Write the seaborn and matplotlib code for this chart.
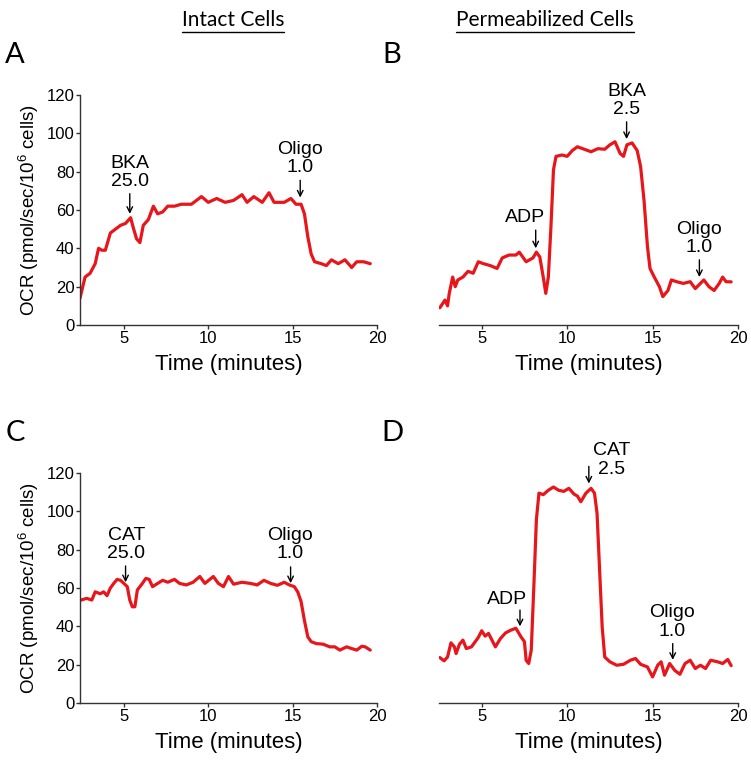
import matplotlib
matplotlib.use("Agg")
import matplotlib.pyplot as plt
import seaborn as sns
import pandas as pd

# --- traces (time in minutes, OCR) ---
time_a = [2.4, 2.7, 3.0, 3.3, 3.5, 3.7, 3.9, 4.2, 4.5, 4.8, 5.1, 5.4, 5.55, 5.75, 5.95,
          6.15, 6.45, 6.75, 7.0, 7.3, 7.6, 8.0, 8.4, 8.7, 9.0, 9.3, 9.6, 10.0, 10.5, 11.0,
          11.5, 12.0, 12.3, 12.7, 13.2, 13.6, 13.9, 14.5, 14.9, 15.2, 15.5, 15.7, 15.9,
          16.1, 16.3, 16.7, 17.0, 17.3, 17.7, 18.1, 18.5, 18.8, 19.2, 19.6]
ocr_a = [14, 25, 27, 32, 40, 39, 39, 48, 50, 52, 53, 56, 51, 45, 43,
         52, 55, 62, 58, 59, 62, 62, 63, 63, 63, 65, 67, 64, 66, 64,
         65, 68, 64, 67, 64, 69, 64, 64, 66, 63, 63, 58, 46,
         37, 33, 32, 31, 34, 32, 34, 30, 33, 33, 32]

time_b = [2.55, 2.7, 2.85, 3.0, 3.1, 3.3, 3.45, 3.6, 3.9, 4.2, 4.5, 4.8, 5.1, 5.5, 5.9,
          6.2, 6.6, 7.0, 7.2, 7.6, 8.0, 8.2, 8.4, 8.6, 8.75, 8.9, 9.05, 9.2, 9.35, 9.7,
          10.0, 10.3, 10.6, 11.0, 11.4, 11.8, 12.2, 12.5, 12.8, 13.1, 13.3, 13.5, 13.8,
          14.1, 14.3, 14.5, 14.7, 14.85, 15.1, 15.4, 15.6, 15.9, 16.1, 16.4, 16.8, 17.2,
          17.5, 17.8, 18.0, 18.3, 18.6, 18.9, 19.1, 19.3, 19.6]
ocr_b = [9, 11, 13, 10, 16.5, 25, 20, 23.5, 25, 28, 27, 33, 32, 31, 29.5,
         35, 36.5, 36.5, 38, 33, 35, 38, 35.5, 25, 16.5, 25, 51, 81, 88, 88.7,
         88, 91, 93, 91.7, 90.4, 92, 91.7, 94, 95.6, 89.5, 88, 94, 95,
         91, 82.6, 65, 41, 29.5, 25, 20, 14.8, 18, 23.5, 22.6, 21.7, 22.6,
         19, 21.7, 23.5, 20, 18, 21.7, 25, 22.6, 22.5]

time_c = [2.45, 2.8, 3.1, 3.3, 3.6, 3.8, 4.0, 4.2, 4.4, 4.6, 4.8, 5.0, 5.2, 5.35, 5.5,
          5.65, 5.8, 6.1, 6.3, 6.5, 6.7, 7.0, 7.3, 7.6, 8.0, 8.3, 8.7, 9.1, 9.5, 9.8,
          10.3, 10.6, 10.9, 11.2, 11.5, 12.0, 12.5, 12.9, 13.3, 13.7, 14.1, 14.5, 14.8,
          15.1, 15.3, 15.5, 15.7, 15.9, 16.1, 16.4, 16.8, 17.2, 17.5, 17.8, 18.2, 18.5,
          18.8, 19.1, 19.3, 19.6]
ocr_c = [53.7, 54.6, 53.7, 58, 57, 58, 56, 60, 62.4, 64.5, 64, 62.4, 60.7, 53.7, 50.2,
         50.2, 59, 62.4, 65, 64.5, 60.7, 62.4, 64, 63, 64.5, 62.4, 61.6, 63, 66, 62.4,
         66, 62.4, 60.7, 66, 62, 63, 62.4, 61.6, 64, 62.4, 61.4, 63, 61.6,
         60.7, 58, 53, 43, 34.5, 32, 31, 30.7, 29.3, 29.3, 27.6, 29.3, 28.4,
         27.6, 29.6, 29.3, 27.6]

time_d = [2.55, 2.8, 3.0, 3.2, 3.4, 3.5, 3.7, 3.9, 4.1, 4.4, 4.8, 5.0, 5.2, 5.4, 5.6,
          5.8, 6.1, 6.4, 6.7, 7.0, 7.3, 7.5, 7.6, 7.75, 7.9, 8.05, 8.2, 8.35, 8.6, 8.9,
          9.2, 9.5, 9.8, 10.1, 10.4, 10.6, 10.8, 11.1, 11.4, 11.6, 11.75, 11.9, 12.05,
          12.2, 12.5, 12.9, 13.3, 13.7, 14.0, 14.3, 14.7, 15.0, 15.3, 15.5, 15.7, 16.0,
          16.3, 16.6, 16.9, 17.2, 17.5, 17.8, 18.1, 18.4, 18.8, 19.1, 19.4, 19.6]
ocr_d = [23.7, 22, 24, 31.4, 29.3, 25.8, 30.7, 32.8, 28.4, 29.3, 34.2, 37.7, 34.9, 36.3, 32.8,
         29.3, 33.7, 36.6, 38, 39, 34.5, 32, 22.3, 20.6, 27.6, 60.7, 95.6, 109.5, 108.7, 111,
         112.7, 111, 110.4, 112, 109, 108, 105, 109.5, 112, 109.5, 99, 69.4, 39.8,
         24, 21.5, 19.7, 20.2, 22.3, 23.2, 20.2, 18.8, 13.6, 19.7, 21.5, 14.5, 20.6,
         17, 15, 20.6, 22.3, 18, 19.7, 18, 22.3, 21.5, 20.6, 22.7, 19.5]

# annotations: label, arrow x, arrow tip, arrow tail, text x, text bottom
notes_a = [("BKA\n25.0", 5.35, 58, 68.5, 5.35, 70.5),
           ("Oligo\n1.0", 15.45, 66.5, 75.5, 15.45, 77.5)]
notes_b = [("ADP", 8.16, 40, 49.5, 7.55, 51.5),
           ("BKA\n2.5", 13.48, 97, 106, 13.5, 108),
           ("Oligo\n1.0", 17.74, 25, 34, 17.74, 36)]
notes_c = [("CAT\n25.0", 5.1, 63, 71.5, 5.15, 73.5),
           ("Oligo\n1.0", 14.88, 62.5, 71, 14.85, 73.5)]
notes_d = [("ADP", 7.24, 40, 48.5, 6.5, 49.5),
           ("CAT\n2.5", 11.27, 114.5, 123.5, 12.6, 117.5),
           ("Oligo\n1.0", 16.18, 22.5, 31, 16.15, 33)]

sns.set_style("ticks")
plt.rcParams["font.family"] = ["Liberation Sans", "DejaVu Sans"]
plt.rcParams["mathtext.fontset"] = "custom"
plt.rcParams["mathtext.rm"] = "Liberation Sans"
plt.rcParams["mathtext.it"] = "Liberation Sans:italic"
for key in ("text.color", "axes.labelcolor", "xtick.labelcolor", "ytick.labelcolor"):
    plt.rcParams[key] = "black"

RED = "#e8161b"
AXC = "#333333"
W, H = 751, 763

fig = plt.figure(figsize=(W / 100, H / 100), dpi=100)


def make_axes(left, top_px, right):
    # 0 at top_px + 230, 120 at top_px
    return fig.add_axes([left / W, (H - top_px - 230) / H, (right - left) / W, 230 / H])


panels = [
    (make_axes(80, 95, 377), time_a, ocr_a, notes_a, True),
    (make_axes(439, 95, 738), time_b, ocr_b, notes_b, False),
    (make_axes(80, 473, 377), time_c, ocr_c, notes_c, True),
    (make_axes(439, 473, 738), time_d, ocr_d, notes_d, False),
]

for ax, t, v, notes, has_y in panels:
    df = pd.DataFrame({"time": t, "ocr": v})
    sns.lineplot(data=df, x="time", y="ocr", ax=ax, color=RED, linewidth=2.3)
    ax.set_xlim(2.5 if not has_y else 2.4, 20)
    ax.set_ylim(0, 120)
    ax.set_xticks([5, 10, 15, 20])
    ax.spines["top"].set_visible(False)
    ax.spines["right"].set_visible(False)
    for s in ("left", "bottom"):
        ax.spines[s].set_color(AXC)
        ax.spines[s].set_linewidth(1.0)
    ax.tick_params(axis="both", labelsize=12, length=3, width=1.0, color=AXC,
                   labelcolor="black", pad=1)
    ax.set_xlabel("Time (minutes)", fontsize=16, labelpad=6)
    if has_y:
        ax.set_yticks([0, 20, 40, 60, 80, 100, 120])
        ax.set_ylabel("OCR (pmol/sec/10$^6$ cells)", fontsize=13.5, labelpad=4)
    else:
        ax.spines["left"].set_visible(False)
        ax.set_yticks([])
        ax.set_ylabel("")
    for label, ax_x, tip, tail, tx, ty in notes:
        ax.annotate("", xy=(ax_x, tip), xytext=(ax_x, tail), annotation_clip=False,
                    arrowprops=dict(arrowstyle="->", color="black", lw=1.0,
                                    shrinkA=0, shrinkB=0, mutation_scale=10))
        ax.text(tx, ty, label, ha="center", va="bottom", fontsize=14,
                linespacing=1.1, clip_on=False, color="black")

head_font = ["Liberation Sans Narrow", "Lato", "DejaVu Sans"]
for txt, xc in [("Intact Cells", 233), ("Permeabilized Cells", 545)]:
    fig.text(xc / W, 1 - 20 / H, txt, ha="center", va="center", fontsize=15,
             family=head_font)
fig.canvas.draw()
rend = fig.canvas.get_renderer()
for t in list(fig.texts):
    bb = t.get_window_extent(rend).transformed(fig.transFigure.inverted())
    fig.add_artist(plt.Line2D([bb.x0, bb.x1], [bb.y0 - 0.002, bb.y0 - 0.002],
                              transform=fig.transFigure, color="black", lw=1.0))

for letter, xc, yc in [("A", 15, 55), ("B", 392, 55), ("C", 15, 433), ("D", 392, 433)]:
    fig.text(xc / W, 1 - yc / H, letter, ha="center", va="center", fontsize=21,
             family=head_font)

fig.savefig("out.png", dpi=100)
